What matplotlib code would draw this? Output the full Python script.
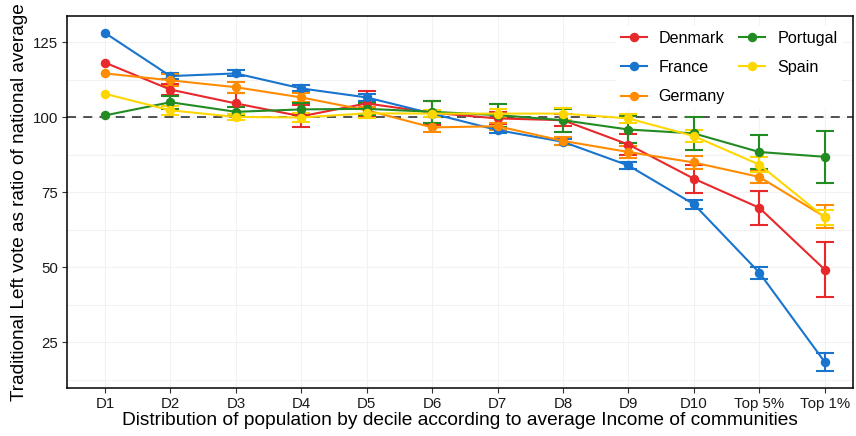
import matplotlib
matplotlib.use("Agg")
import matplotlib.pyplot as plt
import numpy as np

plt.rcParams['font.family'] = ['Liberation Sans', 'DejaVu Sans']

categories = ["D1", "D2", "D3", "D4", "D5", "D6", "D7", "D8", "D9", "D10", "Top 5%", "Top 1%"]

denmark = [118.2, 109.2, 104.6, 100.3, 104.6, 101.5, 99.6, 99.0, 90.9, 79.5, 69.8, 49.2]
denmark_err = [np.nan, 1.8, 3.5, 3.7, 4.3, 4.0, 2.0, 2.0, 3.6, 4.7, 5.6, 9.3]

france = [128.1, 113.7, 114.6, 109.6, 106.6, 101.2, 95.7, 91.8, 83.9, 71.0, 48.2, 18.4]
france_err = [np.nan, 1.0, 1.0, 1.0, 1.2, 1.0, 1.0, 1.0, 1.2, 1.5, 2.0, 3.1]

germany = [114.6, 112.3, 110.0, 106.6, 102.3, 96.6, 97.0, 92.1, 88.4, 84.9, 80.1, 66.8]
germany_err = [np.nan, 2.0, 1.8, 1.5, 1.2, 1.5, 1.2, 1.3, 2.0, 2.3, 2.0, 3.9]

portugal = [100.6, 105.0, 101.8, 102.6, 102.8, 101.8, 100.7, 99.0, 95.9, 94.6, 88.4, 86.8]
portugal_err = [np.nan, 2.2, 1.5, 2.0, 2.0, 3.7, 3.8, 3.9, 4.5, 5.5, 5.7, 8.6]

spain = [107.8, 102.3, 100.1, 99.9, 101.3, 101.2, 101.2, 101.2, 99.6, 93.7, 84.2, 66.6]
spain_err = [np.nan, 1.5, 1.0, 1.5, 1.5, 1.2, 1.5, 2.0, 1.5, 2.0, 2.5, 2.5]

series = [
    ("Denmark", denmark, denmark_err, "#E8282B"),
    ("France", france, france_err, "#1874CD"),
    ("Germany", germany, germany_err, "#FF8C00"),
    ("Portugal", portugal, portugal_err, "#228B22"),
    ("Spain", spain, spain_err, "#FFD700"),
]

fig = plt.figure(figsize=(8.56, 4.36), dpi=100)
ax = fig.add_axes([0.0783, 0.110, 0.918, 0.853])

x = np.arange(len(categories))

# light grid, major and minor
for v in np.arange(12.5, 135, 12.5):
    ax.axhline(v, color="#F2F2F2", lw=0.8, zorder=0)
for xi in x:
    ax.axvline(xi, color="#F2F2F2", lw=0.8, zorder=0)

ax.axhline(100, color="#444444", lw=1.3, ls=(0, (5, 4)), zorder=1)

for name, vals, errs, col in series:
    vals = np.array(vals)
    errs = np.array(errs)
    ax.errorbar(x[1:], vals[1:], yerr=errs[1:], fmt="none", ecolor=col,
                elinewidth=1.5, capsize=6.5, capthick=1.5, zorder=2)
    ax.plot(x, vals, color=col, lw=1.5, marker="o", markersize=5.8,
            label=name, zorder=3)

ax.set_xlim(-0.58, 11.43)
ax.set_ylim(9.7, 133.7)
ax.set_xticks(x)
ax.set_xticklabels(categories)
ax.set_yticks([25, 50, 75, 100, 125])
ax.tick_params(axis="both", labelsize=10.8, length=3.5, width=0.8,
               color="#333333", labelcolor="#1A1A1A", pad=3)
for s in ax.spines.values():
    s.set_linewidth(1.1)
    s.set_color("black")

ax.set_xlabel("Distribution of population by decile according to average Income of communities",
              fontsize=13.8, labelpad=1)
ax.set_ylabel("Traditional Left vote as ratio of national average", fontsize=13.7, labelpad=3)

leg = ax.legend(ncol=2, loc="upper right", bbox_to_anchor=(0.997, 0.995),
                frameon=True, fontsize=11.6, labelspacing=0.88, handlelength=1.6,
                columnspacing=0.9, handletextpad=0.75, borderpad=0.3)
leg.get_frame().set_facecolor("white")
leg.get_frame().set_edgecolor("none")
leg.get_frame().set_alpha(1.0)

fig.savefig("out.png", dpi=100)
